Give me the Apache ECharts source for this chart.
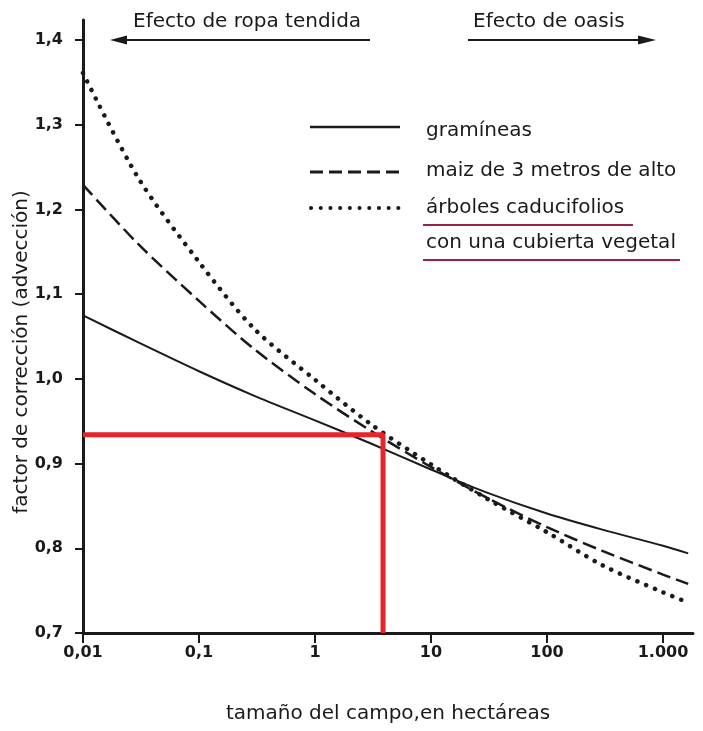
<!DOCTYPE html>
<html>
<head>
<meta charset="utf-8">
<script src="https://cdn.jsdelivr.net/npm/echarts@6/dist/echarts.min.js"></script>
<style>
html,body{margin:0;padding:0;background:#fff;}
#chart{width:703px;height:731px;}
</style>
</head>
<body>
<div id="chart"></div>
<script>
// field size (hectares)
const fieldSize = [0.01, 0.03, 0.1, 0.3, 1, 3, 10, 30, 100, 300, 1000, 1650];
// correction factor (advection)
const gramineas = [1.075, 1.043, 1.009, 0.980, 0.951, 0.924, 0.893, 0.866, 0.841, 0.822, 0.803, 0.794];
const maiz      = [1.229, 1.159, 1.092, 1.035, 0.982, 0.939, 0.896, 0.860, 0.825, 0.797, 0.769, 0.758];
const arboles   = [1.361, 1.237, 1.138, 1.059, 0.999, 0.947, 0.899, 0.859, 0.819, 0.780, 0.748, 0.736];
// red reference lines
const refX = [0.01, 3.86, 3.86];
const refY = [0.934, 0.934, 0.7];

const xTicks = [0.01, 0.1, 1, 10, 100, 1000];
const xTickLabels = ['0,01', '0,1', '1', '10', '100', '1.000'];
const yTicks = [0.7, 0.8, 0.9, 1.0, 1.1, 1.2, 1.3, 1.4];
const yTickLabels = ['0,7', '0,8', '0,9', '1,0', '1,1', '1,2', '1,3', '1,4'];

const xAxisTitle = 'tamaño del campo,en hectáreas';
const yAxisTitle = 'factor de corrección (advección)';
const seriesNames = ['gramíneas', 'maiz de 3 metros de alto', 'árboles caducifolios\ncon una cubierta vegetal'];

const FONT = 'DejaVu Sans';
const INK = '#1a1a1a';

function pairs(xs, ys) { return xs.map((x, i) => [x, ys[i]]); }

const chart = echarts.init(document.getElementById('chart'));
chart.setOption({
  backgroundColor: '#ffffff',
  animation: false,
  grid: { left: 83, top: 20, right: 10, bottom: 98, containLabel: false, outerBoundsMode: 'none' },
  xAxis: {
    type: 'log',
    logBase: 10,
    min: 0.01,
    max: 1815,
    name: xAxisTitle,
    nameLocation: 'middle',
    nameGap: 71,
    nameTextStyle: { fontFamily: FONT, fontSize: 20, color: INK },
    axisLine: { lineStyle: { color: INK, width: 3 } },
    axisTick: { show: true, customValues: xTicks, length: 10, inside: false, lineStyle: { color: INK, width: 2 } },
    axisLabel: {
      customValues: xTicks,
      margin: 12,
      fontFamily: FONT, fontSize: 16, fontWeight: 'bold', color: INK,
      formatter: v => { const i = xTicks.findIndex(t => Math.abs(Math.log10(t) - Math.log10(v)) < 1e-6); return i >= 0 ? xTickLabels[i] : ''; }
    },
    splitLine: { show: false }
  },
  yAxis: {
    type: 'value',
    min: 0.7,
    max: 1.4236,
    axisLine: { show: true, lineStyle: { color: INK, width: 3 } },
    axisTick: { show: true, customValues: yTicks, length: 8, lineStyle: { color: INK, width: 2 } },
    axisLabel: {
      customValues: yTicks,
      margin: 20,
      fontFamily: FONT, fontSize: 16, fontWeight: 'bold', color: INK,
      formatter: v => { const i = yTicks.findIndex(t => Math.abs(t - v) < 1e-6); return i >= 0 ? yTickLabels[i] : ''; }
    },
    splitLine: { show: false }
  },
  series: [
    {
      name: seriesNames[0], type: 'line', smooth: 0.3, symbol: 'none',
      data: pairs(fieldSize, gramineas),
      lineStyle: { color: INK, width: 2 }
    },
    {
      name: seriesNames[1], type: 'line', smooth: 0.3, symbol: 'none',
      data: pairs(fieldSize, maiz),
      lineStyle: { color: INK, width: 2.5, type: [14, 6] }
    },
    {
      name: seriesNames[2], type: 'line', smooth: 0.3, symbol: 'none',
      data: pairs(fieldSize, arboles),
      lineStyle: { color: INK, width: 4.5, type: [0.1, 9.4], cap: 'round' }
    },
    {
      name: 'referencia', type: 'line', symbol: 'none', z: 5,
      data: pairs(refX, refY),
      lineStyle: { color: '#e8232a', width: 5 }
    }
  ],
  graphic: [
    // y axis title
    { type: 'text', x: 22, y: 352, rotation: Math.PI / 2, style: { text: yAxisTitle, font: '20px "DejaVu Sans"', fill: INK, align: 'center', verticalAlign: 'middle' } },
    // top annotations
    { type: 'text', left: 133, top: 12, style: { text: 'Efecto de ropa tendida', font: '20px "DejaVu Sans"', fill: INK } },
    { type: 'line', shape: { x1: 122, y1: 40, x2: 370, y2: 40 }, style: { stroke: INK, lineWidth: 2 } },
    { type: 'polygon', shape: { points: [[110, 40], [127, 35.5], [127, 44.5]] }, style: { fill: INK } },
    { type: 'text', left: 473, top: 12, style: { text: 'Efecto de oasis', font: '20px "DejaVu Sans"', fill: INK } },
    { type: 'line', shape: { x1: 468, y1: 40, x2: 645, y2: 40 }, style: { stroke: INK, lineWidth: 2 } },
    { type: 'polygon', shape: { points: [[656, 40], [638, 35.5], [638, 44.5]] }, style: { fill: INK } },
    // legend
    { type: 'line', shape: { x1: 310, y1: 127, x2: 400, y2: 127 }, style: { stroke: INK, lineWidth: 2.5 } },
    { type: 'text', x: 426, y: 131, style: { text: seriesNames[0], font: '20px "DejaVu Sans"', fill: INK, verticalAlign: 'middle' } },
    { type: 'line', shape: { x1: 310, y1: 172, x2: 400, y2: 172 }, style: { stroke: INK, lineWidth: 3, lineDash: [13, 6] } },
    { type: 'text', x: 426, y: 171, style: { text: seriesNames[1], font: '20px "DejaVu Sans"', fill: INK, verticalAlign: 'middle' } },
    { type: 'line', shape: { x1: 311, y1: 208, x2: 400, y2: 208 }, style: { stroke: INK, lineWidth: 4, lineDash: [0.1, 9.6], lineCap: 'round' } },
    { type: 'text', x: 426, y: 208, style: { text: 'árboles caducifolios', font: '20px "DejaVu Sans"', fill: INK, verticalAlign: 'middle' } },
    { type: 'text', x: 426, y: 243, style: { text: 'con una cubierta vegetal', font: '20px "DejaVu Sans"', fill: INK, verticalAlign: 'middle' } },
    { type: 'line', shape: { x1: 423, y1: 225, x2: 633, y2: 225 }, style: { stroke: '#9c1f4c', lineWidth: 2 } },
    { type: 'line', shape: { x1: 423, y1: 260, x2: 680, y2: 260 }, style: { stroke: '#9c1f4c', lineWidth: 2 } }
  ]
});
</script>
</body>
</html>
